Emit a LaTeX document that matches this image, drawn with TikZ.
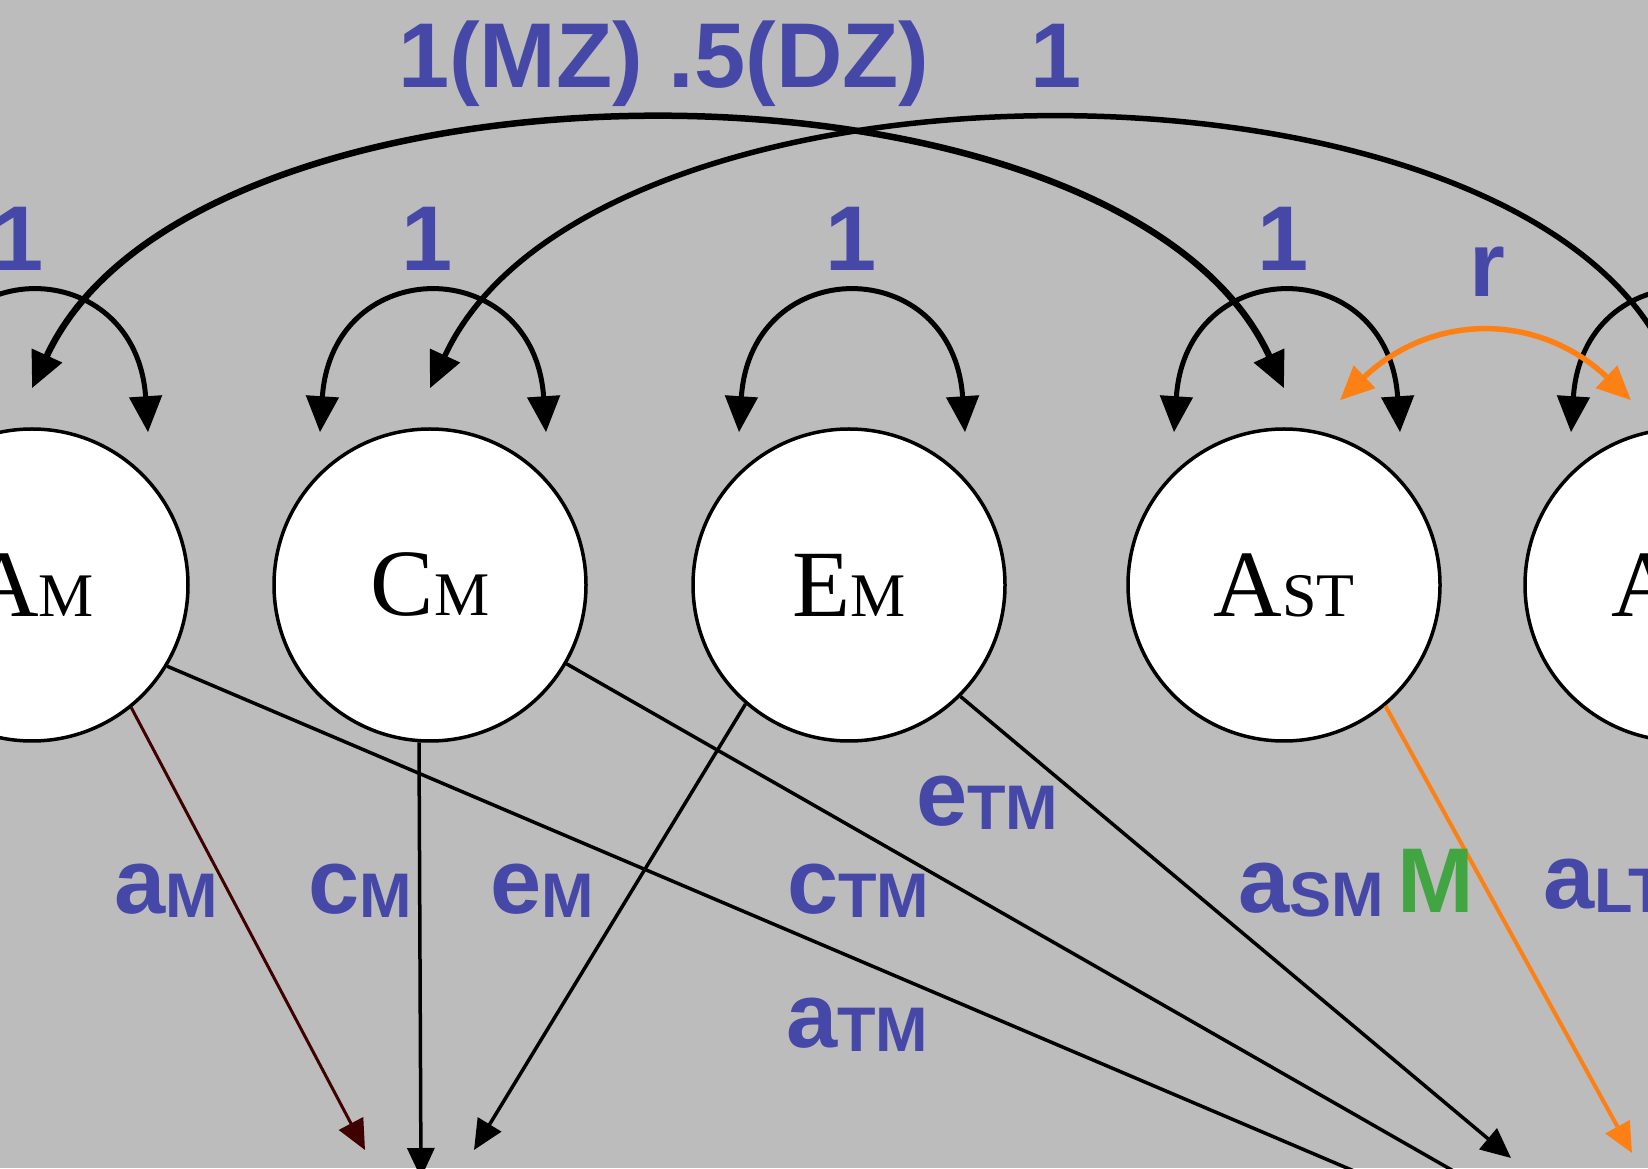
\documentclass[tikz,border=0pt]{standalone}
\usepackage{fontspec}
\setmainfont{Liberation Serif}
\setsansfont{Liberation Sans}
\usepackage{tikz}
\usetikzlibrary{arrows.meta}
\definecolor{slate}{RGB}{188,188,188}
\definecolor{pathblue}{RGB}{70,72,168}
\definecolor{corange}{RGB}{253,128,20}
\definecolor{mgreen}{RGB}{65,165,65}
\definecolor{darkred}{RGB}{64,0,0}
\tikzset{
  latent/.style={circle, draw, line width=3.5pt, fill=white, minimum size=312pt,
    inner sep=0pt, font=\fontsize{95}{95}\selectfont},
  vararrow/.style={line width=5pt,
    {Triangle[length=36pt,width=32pt]}-{Triangle[length=36pt,width=32pt]}},
  rarrow/.style={corange, line width=5.5pt,
    {Triangle[length=34pt,width=30pt]}-{Triangle[length=34pt,width=30pt]}},
  regpath/.style={line width=3.5pt, -{Triangle[length=30pt,width=27pt]}},
  lbl/.style={text=pathblue, inner sep=0pt, anchor=base west,
    font=\sffamily\bfseries\fontsize{92}{92}\selectfont},
}
\newcommand{\lsub}[1]{\raisebox{-4pt}{\fontsize{63}{63}\selectfont #1}}
\newcommand{\csub}[1]{{\fontsize{62}{62}\selectfont #1}}

\begin{document}
\begin{tikzpicture}[x=1pt,y=1pt]
\fill[slate] (0,0) rectangle (1648,1168);
\useasboundingbox (0,0) rectangle (1648,1168);
\clip (0,0) rectangle (1648,1168);

\node[latent] (AM)  at (32,583)   {A\csub{M}};
\node[latent] (CM)  at (430,583)  {C\csub{M}};
\node[latent] (EM)  at (849,583)  {E\csub{M}};
\node[latent] (AST) at (1284,583) {A\csub{ST}};
\node[latent] (ALT) at (1681,583) {A\csub{LT}};

% variances
\foreach \n in {AM,CM,EM,AST,ALT}
  \draw[vararrow] ([shift={(-110,-5)}]\n.north) .. controls +(12,180) and +(-12,180) .. ([shift={(116,-5)}]\n.north);

% between-twin paths
\draw[vararrow, line width=6.5pt] ([yshift=39]AM.north) .. controls +(162,353) and +(-162,353) .. ([yshift=39]AST.north);
\draw[vararrow, line width=5.5pt] ([yshift=39]CM.north) .. controls +(162,353) and +(-162,353) .. ([yshift=39]ALT.north);
\draw[rarrow] ([shift={(56,27)}]AST.north) .. controls +(92,88) and +(-92,88) .. ([shift={(-50,27)}]ALT.north);

\coordinate (obsA) at (365,18);
\coordinate (obsC) at (421,-10);
\coordinate (obsE) at (474,18);
\coordinate (obsT) at (1742,-168);
\coordinate (obsS) at (1511,10);
\coordinate (obsL) at (1632,15);

\draw[regpath, darkred, line width=3pt] (AM.-51) -- (obsA);
\draw[regpath] (CM.-94) -- (obsC);
\draw[regpath] (EM.-131) -- (obsE);
\draw[regpath] (AM.-31) -- (obsT);
\draw[regpath] (CM.-30) -- (obsT);
\draw[regpath] (EM.-45) -- (obsS);
\draw[regpath, corange, line width=4pt] (AST.-50) -- (obsL);

\node[lbl] (lmzdz) at (398,1080) {1(MZ) .5(DZ)};
\node[lbl] (lone) at (1030,1080) {1};
\foreach \x [count=\i] in {18,427,851,1283}
  \node[lbl, anchor=base] (lvar\i) at (\x,897) {1};
\node[lbl] (lr) at (1469,871) {r};

\node[lbl] (laM)  at (114,255)  {a\lsub{M}};
\node[lbl] (lcM)  at (308,255)  {c\lsub{M}};
\node[lbl] (leM)  at (490,255)  {e\lsub{M}};
\node[lbl] (lcTM) at (787,255)  {c\lsub{TM}};
\node[lbl] (laTM) at (786,121)  {a\lsub{TM}};
\node[lbl] (leTM) at (916,343)  {e\lsub{TM}};
\node[lbl] (laSM) at (1238,256) {a\lsub{SM}};
\node[lbl, text=mgreen] (lmod) at (1397,256) {M};
\node[lbl] (laLT) at (1543,260) {a\lsub{LT}};
\end{tikzpicture}
\end{document}
